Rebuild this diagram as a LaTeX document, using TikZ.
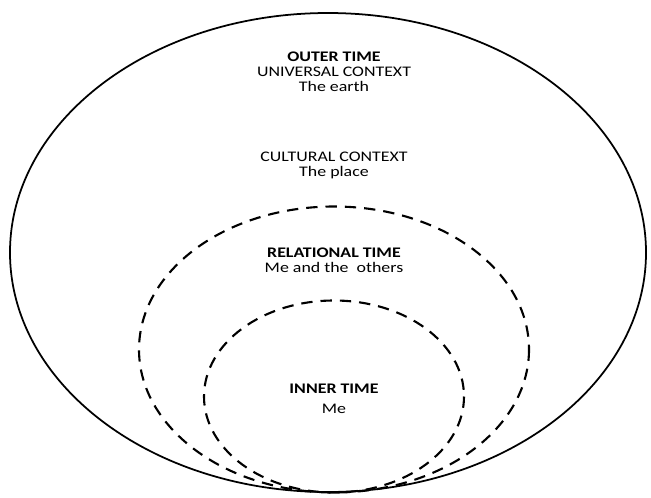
\documentclass[tikz,border=0pt]{standalone}
\usepackage{fontspec}
\setmainfont{Carlito}
\usetikzlibrary{positioning}

\tikzset{
  ring/.style={line width=1.5pt},
  dashring/.style={line width=1.8pt, dash pattern=on 3.4mm off 2.4mm},
  lbl/.style={align=center, font=\fontsize{12.5}{12.8}\selectfont, transform shape, xscale=1.22}
}

\begin{document}
\begin{tikzpicture}[x=0.03cm, y=-0.03cm]
  \useasboundingbox (0,0) rectangle (651,497);
  \draw[ring] (328,252.5) ellipse [x radius=318, y radius=239.5];
  \draw[dashring] (334,349.5) ellipse [x radius=195, y radius=143];
  \draw[dashring] (334,396.5) ellipse [x radius=130, y radius=96];
  \node[lbl] (outer) at (334,72) {\textbf{OUTER TIME}\\UNIVERSAL CONTEXT\\The earth};
  \node[lbl] (cultural) at (334,165.5) {CULTURAL CONTEXT\\The place};
  \node[lbl] (relational) at (334,260.5) {\textbf{RELATIONAL TIME}\\Me and the\ \ others};
  \node[lbl] (inner) at (334,399) {\textbf{INNER TIME}\\[4pt]Me};
\end{tikzpicture}
\end{document}
